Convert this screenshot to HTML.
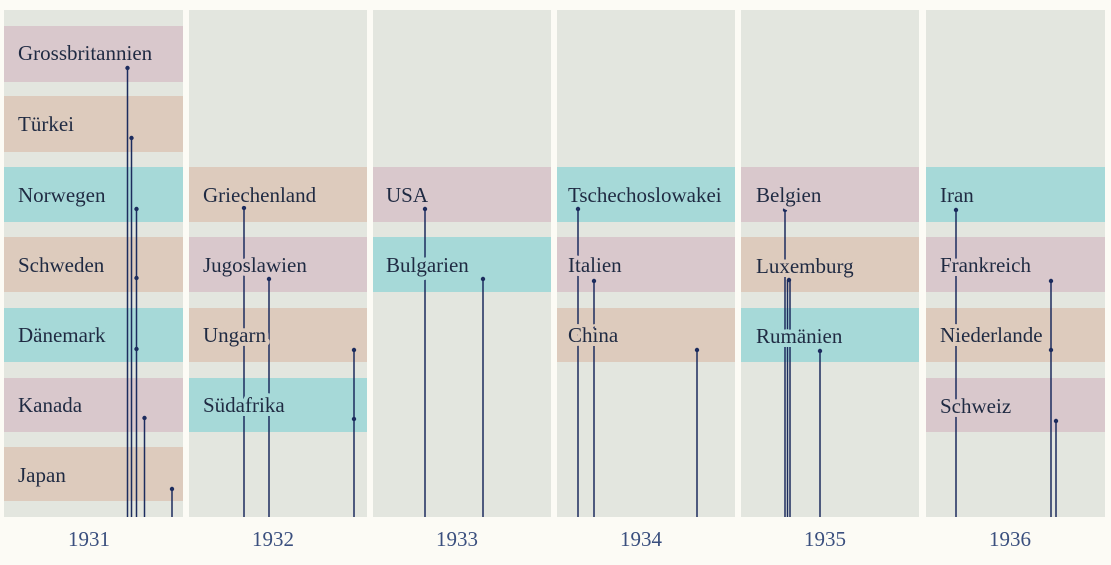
<!DOCTYPE html>
<html><head><meta charset="utf-8"><style>
html,body{margin:0;padding:0;background:#fcfbf5;}
svg{display:block}
text{font-family:"Liberation Serif",serif;}
</style></head><body>
<svg width="1111" height="565" viewBox="0 0 1111 565" xmlns="http://www.w3.org/2000/svg">
<rect width="1111" height="565" fill="#fcfbf5"/>
<g fill="#e3e6df">
<rect x="4" y="10" width="179" height="507"/>
<rect x="189" y="10" width="178" height="507"/>
<rect x="373" y="10" width="178" height="507"/>
<rect x="557" y="10" width="178" height="507"/>
<rect x="741" y="10" width="178" height="507"/>
<rect x="926" y="10" width="179" height="507"/>
</g>
<g>
<rect x="4" y="26" width="179" height="56" fill="#d9c8cc"/>
<rect x="4" y="96" width="179" height="56" fill="#ddcbbd"/>
<rect x="4" y="167" width="179" height="55" fill="#a6d9d8"/>
<rect x="4" y="237" width="179" height="55" fill="#ddcbbd"/>
<rect x="4" y="308" width="179" height="54" fill="#a6d9d8"/>
<rect x="4" y="378" width="179" height="54" fill="#d9c8cc"/>
<rect x="4" y="447" width="179" height="54" fill="#ddcbbd"/>

<rect x="189" y="167" width="178" height="55" fill="#ddcbbd"/>
<rect x="189" y="237" width="178" height="55" fill="#d9c8cc"/>
<rect x="189" y="308" width="178" height="54" fill="#ddcbbd"/>
<rect x="189" y="378" width="178" height="54" fill="#a6d9d8"/>

<rect x="373" y="167" width="178" height="55" fill="#d9c8cc"/>
<rect x="373" y="237" width="178" height="55" fill="#a6d9d8"/>

<rect x="557" y="167" width="178" height="55" fill="#a6d9d8"/>
<rect x="557" y="237" width="178" height="55" fill="#d9c8cc"/>
<rect x="557" y="308" width="178" height="54" fill="#ddcbbd"/>

<rect x="741" y="167" width="178" height="55" fill="#d9c8cc"/>
<rect x="741" y="237" width="178" height="55" fill="#ddcbbd"/>
<rect x="741" y="308" width="178" height="54" fill="#a6d9d8"/>

<rect x="926" y="167" width="179" height="55" fill="#a6d9d8"/>
<rect x="926" y="237" width="179" height="55" fill="#d9c8cc"/>
<rect x="926" y="308" width="179" height="54" fill="#ddcbbd"/>
<rect x="926" y="378" width="179" height="54" fill="#d9c8cc"/>
</g>
<g stroke="#1c2c5e" stroke-width="1.5">
<line x1="127.5" y1="68" x2="127.5" y2="517"/>
<line x1="131.5" y1="138" x2="131.5" y2="517"/>
<line x1="136.5" y1="209" x2="136.5" y2="517"/>
<line x1="144.5" y1="418" x2="144.5" y2="517"/>
<line x1="172" y1="489" x2="172" y2="517"/>

<line x1="244" y1="208" x2="244" y2="517"/>
<line x1="269" y1="279" x2="269" y2="517"/>
<line x1="354" y1="350" x2="354" y2="517"/>

<line x1="425" y1="209" x2="425" y2="517"/>
<line x1="483" y1="279" x2="483" y2="517"/>

<line x1="578" y1="209" x2="578" y2="517"/>
<line x1="594" y1="281" x2="594" y2="517"/>
<line x1="697" y1="350" x2="697" y2="517"/>

<line x1="785" y1="210" x2="785" y2="517"/>
<line x1="787.5" y1="280" x2="787.5" y2="517"/>
<line x1="790" y1="280" x2="790" y2="517"/>
<line x1="820" y1="351" x2="820" y2="517"/>

<line x1="956" y1="210" x2="956" y2="517"/>
<line x1="1051" y1="281" x2="1051" y2="517"/>
<line x1="1056" y1="421" x2="1056" y2="517"/>
</g>
<g fill="#1c2c5e">
<circle cx="127.5" cy="68" r="2.2"/><circle cx="131.5" cy="138" r="2.2"/><circle cx="136.5" cy="209" r="2.2"/>
<circle cx="136.5" cy="278" r="2.2"/><circle cx="136.5" cy="349" r="2.2"/><circle cx="144.5" cy="418" r="2.2"/><circle cx="172" cy="489" r="2.2"/>
<circle cx="244" cy="208" r="2.2"/><circle cx="269" cy="279" r="2.2"/><circle cx="354" cy="350" r="2.2"/><circle cx="354" cy="419" r="2.2"/>
<circle cx="425" cy="209" r="2.2"/><circle cx="483" cy="279" r="2.2"/>
<circle cx="578" cy="209" r="2.2"/><circle cx="594" cy="281" r="2.2"/><circle cx="697" cy="350" r="2.2"/>
<circle cx="785" cy="210" r="2.2"/><circle cx="789" cy="280" r="2.2"/><circle cx="820" cy="351" r="2.2"/>
<circle cx="956" cy="210" r="2.2"/><circle cx="1051" cy="281" r="2.2"/><circle cx="1051" cy="350" r="2.2"/><circle cx="1056" cy="421" r="2.2"/>
</g>
<g font-size="21" fill="#1f2a42" stroke-width="8" paint-order="stroke" stroke-linejoin="round">
<text x="18" y="60" stroke="#d9c8cc">Grossbritannien</text>
<text x="18" y="131" stroke="#ddcbbd">Türkei</text>
<text x="18" y="202" stroke="#a6d9d8">Norwegen</text>
<text x="18" y="272" stroke="#ddcbbd">Schweden</text>
<text x="18" y="342" stroke="#a6d9d8">Dänemark</text>
<text x="18" y="412" stroke="#d9c8cc">Kanada</text>
<text x="18" y="482" stroke="#ddcbbd">Japan</text>

<text x="203" y="202" stroke="#ddcbbd">Griechenland</text>
<text x="203" y="272" stroke="#d9c8cc">Jugoslawien</text>
<text x="203" y="342" stroke="#ddcbbd">Ungarn</text>
<text x="203" y="412" stroke="#a6d9d8">Südafrika</text>

<text x="386" y="202" stroke="#d9c8cc">USA</text>
<text x="386" y="272" stroke="#a6d9d8">Bulgarien</text>

<text x="568" y="202" stroke="#a6d9d8">Tschechoslowakei</text>
<text x="568" y="272" stroke="#d9c8cc">Italien</text>
<text x="568" y="342" stroke="#ddcbbd">China</text>

<text x="756" y="202" stroke="#d9c8cc">Belgien</text>
<text x="756" y="273" stroke="#ddcbbd">Luxemburg</text>
<text x="756" y="343" stroke="#a6d9d8">Rumänien</text>

<text x="940" y="202" stroke="#a6d9d8">Iran</text>
<text x="940" y="272" stroke="#d9c8cc">Frankreich</text>
<text x="940" y="342" stroke="#ddcbbd">Niederlande</text>
<text x="940" y="413" stroke="#d9c8cc">Schweiz</text>
</g>
<g font-size="21" fill="#3a4f7e" text-anchor="middle">
<text x="89" y="546">1931</text>
<text x="273" y="546">1932</text>
<text x="457" y="546">1933</text>
<text x="641" y="546">1934</text>
<text x="825" y="546">1935</text>
<text x="1010" y="546">1936</text>
</g>
</svg>
</body></html>
